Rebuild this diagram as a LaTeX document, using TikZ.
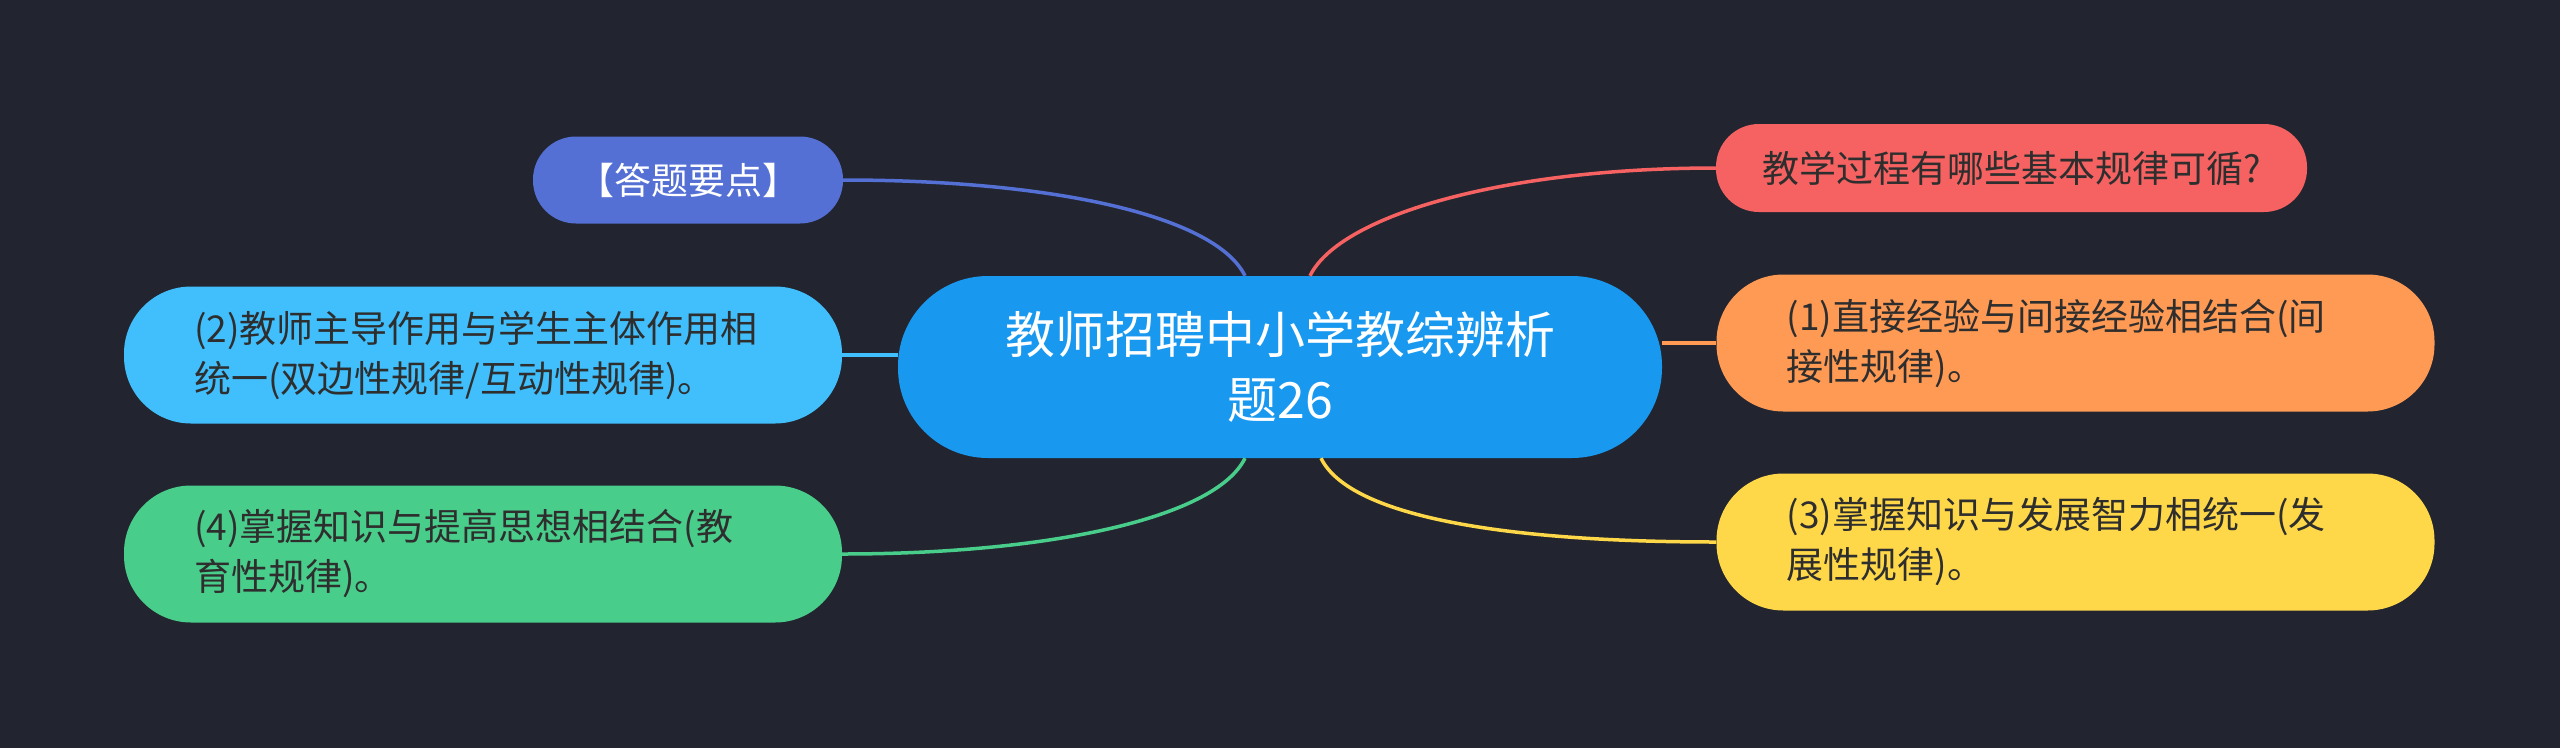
\documentclass[tikz,border=0pt]{standalone}
\usepackage{fontspec}
\setmainfont{Noto Sans CJK SC}
\definecolor{bg}{HTML}{22252F}
\definecolor{cmain}{HTML}{1998EF}
\definecolor{cpurple}{HTML}{5570D4}
\definecolor{ccyan}{HTML}{40BFFC}
\definecolor{cgreen}{HTML}{49CD8B}
\definecolor{cred}{HTML}{F66262}
\definecolor{corange}{HTML}{FF9A55}
\definecolor{cyellow}{HTML}{FFD84A}
\definecolor{ctext}{HTML}{2E2E2E}
\begin{document}
\begin{tikzpicture}[x=1pt,y=-1pt,
  link/.style={line width=3.5pt},
  topic/.style={rectangle, inner sep=0pt, font=\fontsize{37pt}{50pt}\selectfont, text=ctext},
  multi/.style={topic, inner xsep=70pt, text width=578pt, align=left, minimum height=137pt, rounded corners=67pt},
  single/.style={topic, align=center, minimum height=87pt, rounded corners=43pt}
]
\useasboundingbox (0,0) rectangle (2560,748);
\fill[bg] (0,0) rectangle (2560,748);

% nodes (drawn first to get anchors; connectors go behind via layers)
\begin{scope}
\node[rectangle, inner sep=0pt, fill=cmain, minimum width=764pt, minimum height=182pt, rounded corners=90pt, align=center, text=white, font=\fontsize{50pt}{65pt}\selectfont] (c) at (1280,367) {教师招聘中小学教综辨析\\题26};
\node[single, fill=cpurple, minimum width=310pt, text=white] (a) at (688,180) {【答题要点】};
\node[multi, fill=ccyan] (n2) at (483,355) {(2)教师主导作用与学生主体作用相\\统一(双边性规律/互动性规律)。};
\node[multi, fill=cgreen] (n4) at (483,554) {(4)掌握知识与提高思想相结合(教\\育性规律)。};
\node[single, fill=cred, minimum width=591pt, minimum height=88pt] (q) at (2011.5,168) {教学过程有哪些基本规律可循?};
\node[multi, fill=corange] (n1) at (2075.5,343) {(1)直接经验与间接经验相结合(间\\接性规律)。};
\node[multi, fill=cyellow] (n3) at (2075.5,542) {(3)掌握知识与发展智力相统一(发\\展性规律)。};
\end{scope}

\coordinate (cbl) at ([xshift=-35pt]c.north);
\coordinate (cbr) at ([xshift=30pt]c.north);
\coordinate (cgl) at ([xshift=-35pt]c.south);
\coordinate (cyr) at ([xshift=41pt]c.south);

\draw[link, cpurple] (a.east) .. controls (1050,180) and (1215,215) .. (cbl);
\draw[link, cred] (cbr) .. controls (1340,215) and (1505,168) .. (q.west);
\draw[link, ccyan] (n2.east) -- (n2.east -| c.west);
\draw[link, corange] (n1.west -| c.east) -- (n1.west);
\draw[link, cgreen] (cgl) .. controls (1215,519) and (1045,554) .. (n4.east);
\draw[link, cyellow] (cyr) .. controls (1351,519) and (1516,542) .. (n3.west);
\end{tikzpicture}
\end{document}
